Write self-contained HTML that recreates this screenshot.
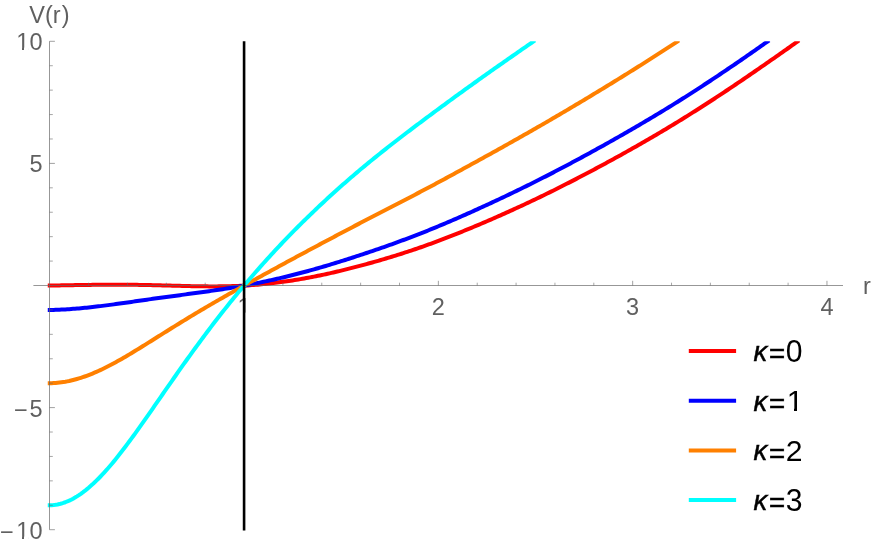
<!DOCTYPE html>
<html><head><meta charset="utf-8"><title>V(r)</title>
<style>html,body{margin:0;padding:0;background:#fff;}svg{display:block;will-change:transform;}text{font-family:"Liberation Sans",sans-serif;}</style></head><body>
<svg width="872" height="545" viewBox="0 0 872 545">
<rect width="872" height="545" fill="#fff"/>
<defs><clipPath id="c"><rect x="33" y="41.30" width="810" height="488.40"/></clipPath></defs>
<g clip-path="url(#c)" fill="none" stroke-width="4.0" stroke-linecap="butt" stroke-linejoin="round">
<path d="M47.76,285.57 L49.76,285.57 L51.70,285.53 L53.65,285.49 L55.59,285.45 L57.53,285.41 L59.48,285.38 L61.42,285.34 L63.36,285.30 L65.30,285.27 L67.25,285.23 L69.19,285.20 L71.13,285.17 L73.08,285.13 L75.02,285.10 L76.96,285.07 L78.91,285.04 L80.85,285.01 L82.79,284.99 L84.73,284.96 L86.68,284.94 L88.62,284.91 L90.56,284.89 L92.51,284.87 L94.45,284.85 L96.39,284.83 L98.34,284.81 L100.28,284.80 L102.22,284.78 L104.16,284.77 L106.11,284.76 L108.05,284.75 L109.99,284.74 L111.94,284.74 L113.88,284.74 L115.82,284.73 L117.77,284.74 L119.71,284.74 L121.65,284.74 L123.59,284.75 L125.54,284.76 L127.48,284.77 L129.42,284.78 L131.37,284.80 L133.31,284.82 L135.25,284.84 L137.19,284.86 L139.14,284.89 L141.08,284.91 L143.02,284.94 L144.97,284.98 L146.91,285.01 L148.85,285.05 L150.80,285.09 L152.74,285.14 L154.68,285.18 L156.62,285.23 L158.57,285.28 L160.51,285.33 L162.45,285.38 L164.40,285.43 L166.34,285.49 L168.28,285.54 L170.23,285.59 L172.17,285.65 L174.11,285.70 L176.06,285.75 L178.00,285.81 L179.94,285.86 L181.88,285.91 L183.83,285.96 L185.77,286.01 L187.71,286.05 L189.66,286.10 L191.60,286.14 L193.54,286.18 L195.49,286.22 L197.43,286.25 L199.37,286.28 L201.31,286.31 L203.26,286.33 L205.20,286.35 L207.14,286.37 L209.09,286.38 L211.03,286.39 L212.97,286.39 L214.91,286.39 L216.86,286.38 L218.80,286.37 L220.74,286.35 L222.69,286.33 L224.63,286.30 L226.57,286.26 L228.52,286.22 L230.46,286.17 L232.40,286.11 L234.35,286.05 L236.29,285.98 L238.23,285.90 L240.17,285.81 L242.12,285.72 L244.06,285.61 L246.00,285.50 L247.95,285.38 L249.89,285.25 L251.83,285.12 L253.78,284.97 L255.72,284.82 L257.66,284.66 L259.60,284.49 L261.55,284.31 L263.49,284.13 L265.43,283.93 L267.38,283.73 L269.32,283.52 L271.26,283.30 L273.21,283.08 L275.15,282.84 L277.09,282.60 L279.03,282.35 L280.98,282.10 L282.92,281.83 L284.86,281.56 L286.81,281.28 L288.75,280.99 L290.69,280.70 L292.63,280.40 L294.58,280.09 L296.52,279.77 L298.46,279.45 L300.41,279.12 L302.35,278.78 L304.29,278.44 L306.24,278.09 L308.18,277.73 L310.12,277.36 L312.06,276.99 L314.01,276.61 L315.95,276.22 L317.89,275.83 L319.84,275.43 L321.78,275.02 L323.72,274.61 L325.67,274.19 L327.61,273.76 L329.55,273.33 L331.50,272.89 L333.44,272.45 L335.38,271.99 L337.32,271.54 L339.27,271.07 L341.21,270.60 L343.15,270.13 L345.10,269.65 L347.04,269.16 L348.98,268.67 L350.93,268.18 L352.87,267.68 L354.81,267.18 L356.75,266.67 L358.70,266.16 L360.64,265.65 L362.58,265.13 L364.53,264.60 L366.47,264.08 L368.41,263.54 L370.36,263.00 L372.30,262.46 L374.24,261.91 L376.18,261.36 L378.13,260.80 L380.07,260.24 L382.01,259.67 L383.96,259.10 L385.90,258.52 L387.84,257.94 L389.79,257.35 L391.73,256.76 L393.67,256.16 L395.61,255.56 L397.56,254.95 L399.50,254.34 L401.44,253.72 L403.39,253.10 L405.33,252.47 L407.27,251.83 L409.22,251.19 L411.16,250.55 L413.10,249.90 L415.04,249.24 L416.99,248.58 L418.93,247.91 L420.87,247.24 L422.82,246.56 L424.76,245.88 L426.70,245.19 L428.64,244.49 L430.59,243.79 L432.53,243.08 L434.47,242.37 L436.42,241.65 L438.36,240.92 L440.30,240.19 L442.25,239.46 L444.19,238.71 L446.13,237.96 L448.07,237.21 L450.02,236.45 L451.96,235.68 L453.90,234.91 L455.85,234.14 L457.79,233.36 L459.73,232.58 L461.68,231.80 L463.62,231.01 L465.56,230.21 L467.50,229.42 L469.45,228.62 L471.39,227.81 L473.33,227.00 L475.28,226.19 L477.22,225.38 L479.16,224.56 L481.11,223.73 L483.05,222.91 L484.99,222.08 L486.94,221.24 L488.88,220.40 L490.82,219.56 L492.76,218.72 L494.71,217.87 L496.65,217.01 L498.59,216.16 L500.54,215.30 L502.48,214.43 L504.42,213.57 L506.37,212.70 L508.31,211.82 L510.25,210.94 L512.19,210.06 L514.14,209.18 L516.08,208.29 L518.02,207.39 L519.97,206.50 L521.91,205.60 L523.85,204.70 L525.80,203.79 L527.74,202.88 L529.68,201.96 L531.62,201.04 L533.57,200.12 L535.51,199.20 L537.45,198.27 L539.40,197.34 L541.34,196.40 L543.28,195.46 L545.23,194.51 L547.17,193.56 L549.11,192.60 L551.05,191.65 L553.00,190.68 L554.94,189.72 L556.88,188.75 L558.83,187.77 L560.77,186.80 L562.71,185.81 L564.65,184.83 L566.60,183.84 L568.54,182.85 L570.48,181.85 L572.43,180.85 L574.37,179.85 L576.31,178.85 L578.26,177.84 L580.20,176.83 L582.14,175.81 L584.09,174.79 L586.03,173.77 L587.97,172.75 L589.91,171.72 L591.86,170.69 L593.80,169.66 L595.74,168.63 L597.69,167.59 L599.63,166.55 L601.57,165.50 L603.51,164.45 L605.46,163.40 L607.40,162.35 L609.34,161.29 L611.29,160.23 L613.23,159.17 L615.17,158.10 L617.12,157.03 L619.06,155.96 L621.00,154.88 L622.95,153.80 L624.89,152.72 L626.83,151.63 L628.77,150.54 L630.72,149.45 L632.66,148.35 L634.60,147.25 L636.55,146.15 L638.49,145.04 L640.43,143.93 L642.38,142.82 L644.32,141.70 L646.26,140.58 L648.20,139.45 L650.15,138.32 L652.09,137.19 L654.03,136.05 L655.98,134.91 L657.92,133.77 L659.86,132.62 L661.81,131.47 L663.75,130.31 L665.69,129.16 L667.63,127.99 L669.58,126.83 L671.52,125.65 L673.46,124.48 L675.41,123.30 L677.35,122.11 L679.29,120.92 L681.24,119.72 L683.18,118.52 L685.12,117.31 L687.06,116.10 L689.01,114.88 L690.95,113.66 L692.89,112.43 L694.84,111.20 L696.78,109.97 L698.72,108.73 L700.67,107.49 L702.61,106.25 L704.55,105.00 L706.49,103.75 L708.44,102.50 L710.38,101.24 L712.32,99.98 L714.27,98.72 L716.21,97.45 L718.15,96.17 L720.10,94.89 L722.04,93.61 L723.98,92.33 L725.92,91.04 L727.87,89.74 L729.81,88.44 L731.75,87.14 L733.70,85.84 L735.64,84.53 L737.58,83.21 L739.53,81.90 L741.47,80.58 L743.41,79.26 L745.35,77.93 L747.30,76.60 L749.24,75.27 L751.18,73.94 L753.13,72.60 L755.07,71.26 L757.01,69.92 L758.96,68.58 L760.90,67.23 L762.84,65.89 L764.78,64.54 L766.73,63.18 L768.67,61.83 L770.61,60.48 L772.56,59.12 L774.50,57.77 L776.44,56.42 L778.38,55.06 L780.33,53.71 L782.27,52.35 L784.21,50.98 L786.16,49.62 L788.10,48.25 L790.04,46.87 L791.99,45.49 L793.93,44.10 L795.87,42.70 L797.80,41.30 L799.10,40.36" stroke="#ff0000"/>
<path d="M47.76,309.99 L49.76,309.99 L51.70,309.94 L53.65,309.89 L55.59,309.83 L57.53,309.76 L59.48,309.68 L61.42,309.58 L63.36,309.49 L65.30,309.38 L67.25,309.26 L69.19,309.14 L71.13,309.00 L73.08,308.86 L75.02,308.71 L76.96,308.55 L78.91,308.39 L80.85,308.21 L82.79,308.03 L84.73,307.85 L86.68,307.65 L88.62,307.45 L90.56,307.25 L92.51,307.03 L94.45,306.81 L96.39,306.59 L98.34,306.36 L100.28,306.12 L102.22,305.88 L104.16,305.64 L106.11,305.39 L108.05,305.14 L109.99,304.88 L111.94,304.62 L113.88,304.36 L115.82,304.09 L117.77,303.83 L119.71,303.55 L121.65,303.28 L123.59,303.01 L125.54,302.73 L127.48,302.45 L129.42,302.17 L131.37,301.90 L133.31,301.62 L135.25,301.34 L137.19,301.06 L139.14,300.78 L141.08,300.50 L143.02,300.22 L144.97,299.94 L146.91,299.66 L148.85,299.39 L150.80,299.12 L152.74,298.85 L154.68,298.58 L156.62,298.31 L158.57,298.04 L160.51,297.77 L162.45,297.51 L164.40,297.24 L166.34,296.98 L168.28,296.71 L170.23,296.45 L172.17,296.19 L174.11,295.93 L176.06,295.67 L178.00,295.41 L179.94,295.15 L181.88,294.89 L183.83,294.63 L185.77,294.37 L187.71,294.10 L189.66,293.84 L191.60,293.58 L193.54,293.32 L195.49,293.05 L197.43,292.79 L199.37,292.52 L201.31,292.25 L203.26,291.98 L205.20,291.71 L207.14,291.44 L209.09,291.16 L211.03,290.89 L212.97,290.61 L214.91,290.32 L216.86,290.04 L218.80,289.75 L220.74,289.46 L222.69,289.16 L224.63,288.86 L226.57,288.56 L228.52,288.25 L230.46,287.94 L232.40,287.62 L234.35,287.30 L236.29,286.97 L238.23,286.64 L240.17,286.30 L242.12,285.96 L244.06,285.61 L246.00,285.26 L247.95,284.90 L249.89,284.53 L251.83,284.16 L253.78,283.78 L255.72,283.40 L257.66,283.01 L259.60,282.61 L261.55,282.21 L263.49,281.80 L265.43,281.39 L267.38,280.97 L269.32,280.55 L271.26,280.12 L273.21,279.69 L275.15,279.24 L277.09,278.80 L279.03,278.35 L280.98,277.89 L282.92,277.43 L284.86,276.96 L286.81,276.49 L288.75,276.01 L290.69,275.53 L292.63,275.04 L294.58,274.54 L296.52,274.05 L298.46,273.54 L300.41,273.03 L302.35,272.52 L304.29,272.00 L306.24,271.47 L308.18,270.95 L310.12,270.41 L312.06,269.87 L314.01,269.33 L315.95,268.78 L317.89,268.23 L319.84,267.67 L321.78,267.10 L323.72,266.53 L325.67,265.96 L327.61,265.38 L329.55,264.80 L331.50,264.21 L333.44,263.62 L335.38,263.03 L337.32,262.43 L339.27,261.82 L341.21,261.21 L343.15,260.60 L345.10,259.98 L347.04,259.36 L348.98,258.74 L350.93,258.11 L352.87,257.49 L354.81,256.86 L356.75,256.22 L358.70,255.59 L360.64,254.95 L362.58,254.31 L364.53,253.66 L366.47,253.01 L368.41,252.36 L370.36,251.70 L372.30,251.05 L374.24,250.38 L376.18,249.72 L378.13,249.05 L380.07,248.38 L382.01,247.70 L383.96,247.02 L385.90,246.33 L387.84,245.65 L389.79,244.96 L391.73,244.26 L393.67,243.56 L395.61,242.86 L397.56,242.15 L399.50,241.44 L401.44,240.72 L403.39,240.00 L405.33,239.28 L407.27,238.55 L409.22,237.82 L411.16,237.08 L413.10,236.34 L415.04,235.59 L416.99,234.84 L418.93,234.09 L420.87,233.33 L422.82,232.56 L424.76,231.79 L426.70,231.02 L428.64,230.24 L430.59,229.46 L432.53,228.67 L434.47,227.87 L436.42,227.08 L438.36,226.27 L440.30,225.46 L442.25,224.65 L444.19,223.83 L446.13,223.00 L448.07,222.17 L450.02,221.34 L451.96,220.50 L453.90,219.66 L455.85,218.82 L457.79,217.97 L459.73,217.12 L461.68,216.27 L463.62,215.41 L465.56,214.55 L467.50,213.68 L469.45,212.82 L471.39,211.95 L473.33,211.07 L475.28,210.20 L477.22,209.32 L479.16,208.44 L481.11,207.55 L483.05,206.66 L484.99,205.77 L486.94,204.88 L488.88,203.98 L490.82,203.08 L492.76,202.18 L494.71,201.27 L496.65,200.36 L498.59,199.45 L500.54,198.53 L502.48,197.61 L504.42,196.69 L506.37,195.76 L508.31,194.84 L510.25,193.90 L512.19,192.97 L514.14,192.03 L516.08,191.09 L518.02,190.15 L519.97,189.20 L521.91,188.25 L523.85,187.30 L525.80,186.34 L527.74,185.38 L529.68,184.42 L531.62,183.46 L533.57,182.49 L535.51,181.51 L537.45,180.54 L539.40,179.56 L541.34,178.58 L543.28,177.59 L545.23,176.60 L547.17,175.60 L549.11,174.61 L551.05,173.61 L553.00,172.60 L554.94,171.59 L556.88,170.58 L558.83,169.56 L560.77,168.54 L562.71,167.52 L564.65,166.50 L566.60,165.47 L568.54,164.44 L570.48,163.40 L572.43,162.36 L574.37,161.32 L576.31,160.28 L578.26,159.23 L580.20,158.18 L582.14,157.13 L584.09,156.08 L586.03,155.02 L587.97,153.96 L589.91,152.90 L591.86,151.83 L593.80,150.77 L595.74,149.70 L597.69,148.62 L599.63,147.55 L601.57,146.47 L603.51,145.39 L605.46,144.30 L607.40,143.22 L609.34,142.13 L611.29,141.04 L613.23,139.94 L615.17,138.84 L617.12,137.74 L619.06,136.63 L621.00,135.53 L622.95,134.42 L624.89,133.30 L626.83,132.19 L628.77,131.07 L630.72,129.94 L632.66,128.82 L634.60,127.69 L636.55,126.55 L638.49,125.42 L640.43,124.28 L642.38,123.14 L644.32,121.99 L646.26,120.84 L648.20,119.69 L650.15,118.53 L652.09,117.37 L654.03,116.21 L655.98,115.04 L657.92,113.87 L659.86,112.70 L661.81,111.52 L663.75,110.34 L665.69,109.16 L667.63,107.97 L669.58,106.78 L671.52,105.58 L673.46,104.38 L675.41,103.17 L677.35,101.96 L679.29,100.75 L681.24,99.52 L683.18,98.30 L685.12,97.07 L687.06,95.83 L689.01,94.59 L690.95,93.35 L692.89,92.10 L694.84,90.85 L696.78,89.59 L698.72,88.33 L700.67,87.07 L702.61,85.80 L704.55,84.53 L706.49,83.26 L708.44,81.99 L710.38,80.71 L712.32,79.43 L714.27,78.14 L716.21,76.85 L718.15,75.56 L720.10,74.26 L722.04,72.96 L723.98,71.65 L725.92,70.34 L727.87,69.03 L729.81,67.71 L731.75,66.39 L733.70,65.06 L735.64,63.73 L737.58,62.40 L739.53,61.07 L741.47,59.73 L743.41,58.39 L745.35,57.05 L747.30,55.70 L749.24,54.35 L751.18,53.00 L753.13,51.65 L755.07,50.29 L757.01,48.93 L758.96,47.57 L760.90,46.21 L762.84,44.84 L764.78,43.47 L766.73,42.11 L767.87,41.30 L769.18,40.38" stroke="#0000ff"/>
<path d="M47.76,383.25 L49.76,383.25 L51.70,383.19 L53.65,383.09 L55.59,382.96 L57.53,382.78 L59.48,382.57 L61.42,382.32 L63.36,382.03 L65.30,381.71 L67.25,381.34 L69.19,380.95 L71.13,380.51 L73.08,380.04 L75.02,379.54 L76.96,379.00 L78.91,378.42 L80.85,377.82 L82.79,377.18 L84.73,376.51 L86.68,375.81 L88.62,375.08 L90.56,374.32 L92.51,373.53 L94.45,372.71 L96.39,371.87 L98.34,371.00 L100.28,370.11 L102.22,369.19 L104.16,368.25 L106.11,367.29 L108.05,366.30 L109.99,365.30 L111.94,364.27 L113.88,363.23 L115.82,362.17 L117.77,361.10 L119.71,360.00 L121.65,358.90 L123.59,357.78 L125.54,356.65 L127.48,355.50 L129.42,354.35 L131.37,353.18 L133.31,352.01 L135.25,350.83 L137.19,349.64 L139.14,348.45 L141.08,347.25 L143.02,346.04 L144.97,344.83 L146.91,343.62 L148.85,342.41 L150.80,341.19 L152.74,339.97 L154.68,338.76 L156.62,337.54 L158.57,336.32 L160.51,335.10 L162.45,333.88 L164.40,332.67 L166.34,331.45 L168.28,330.24 L170.23,329.03 L172.17,327.82 L174.11,326.61 L176.06,325.41 L178.00,324.21 L179.94,323.01 L181.88,321.82 L183.83,320.63 L185.77,319.44 L187.71,318.26 L189.66,317.08 L191.60,315.90 L193.54,314.73 L195.49,313.57 L197.43,312.40 L199.37,311.24 L201.31,310.09 L203.26,308.94 L205.20,307.79 L207.14,306.65 L209.09,305.51 L211.03,304.38 L212.97,303.25 L214.91,302.12 L216.86,301.00 L218.80,299.88 L220.74,298.77 L222.69,297.66 L224.63,296.55 L226.57,295.44 L228.52,294.34 L230.46,293.24 L232.40,292.15 L234.35,291.05 L236.29,289.96 L238.23,288.87 L240.17,287.78 L242.12,286.70 L244.06,285.61 L246.00,284.53 L247.95,283.45 L249.89,282.37 L251.83,281.29 L253.78,280.21 L255.72,279.13 L257.66,278.06 L259.60,276.99 L261.55,275.91 L263.49,274.84 L265.43,273.77 L267.38,272.71 L269.32,271.64 L271.26,270.58 L273.21,269.51 L275.15,268.45 L277.09,267.39 L279.03,266.33 L280.98,265.27 L282.92,264.22 L284.86,263.16 L286.81,262.11 L288.75,261.06 L290.69,260.01 L292.63,258.96 L294.58,257.91 L296.52,256.86 L298.46,255.82 L300.41,254.77 L302.35,253.73 L304.29,252.68 L306.24,251.64 L308.18,250.60 L310.12,249.56 L312.06,248.52 L314.01,247.49 L315.95,246.45 L317.89,245.41 L319.84,244.38 L321.78,243.34 L323.72,242.31 L325.67,241.28 L327.61,240.24 L329.55,239.21 L331.50,238.18 L333.44,237.15 L335.38,236.12 L337.32,235.09 L339.27,234.06 L341.21,233.03 L343.15,232.01 L345.10,230.98 L347.04,229.96 L348.98,228.94 L350.93,227.92 L352.87,226.90 L354.81,225.88 L356.75,224.87 L358.70,223.86 L360.64,222.85 L362.58,221.84 L364.53,220.83 L366.47,219.82 L368.41,218.81 L370.36,217.80 L372.30,216.80 L374.24,215.79 L376.18,214.79 L378.13,213.78 L380.07,212.78 L382.01,211.78 L383.96,210.77 L385.90,209.77 L387.84,208.77 L389.79,207.76 L391.73,206.76 L393.67,205.75 L395.61,204.75 L397.56,203.74 L399.50,202.74 L401.44,201.73 L403.39,200.72 L405.33,199.71 L407.27,198.70 L409.22,197.69 L411.16,196.68 L413.10,195.66 L415.04,194.65 L416.99,193.63 L418.93,192.61 L420.87,191.59 L422.82,190.57 L424.76,189.54 L426.70,188.52 L428.64,187.49 L430.59,186.46 L432.53,185.43 L434.47,184.39 L436.42,183.35 L438.36,182.32 L440.30,181.27 L442.25,180.23 L444.19,179.18 L446.13,178.13 L448.07,177.08 L450.02,176.02 L451.96,174.97 L453.90,173.91 L455.85,172.85 L457.79,171.79 L459.73,170.73 L461.68,169.67 L463.62,168.61 L465.56,167.55 L467.50,166.48 L469.45,165.42 L471.39,164.35 L473.33,163.29 L475.28,162.22 L477.22,161.15 L479.16,160.08 L481.11,159.01 L483.05,157.93 L484.99,156.86 L486.94,155.79 L488.88,154.71 L490.82,153.63 L492.76,152.55 L494.71,151.47 L496.65,150.39 L498.59,149.31 L500.54,148.23 L502.48,147.14 L504.42,146.06 L506.37,144.97 L508.31,143.88 L510.25,142.79 L512.19,141.70 L514.14,140.60 L516.08,139.51 L518.02,138.41 L519.97,137.31 L521.91,136.21 L523.85,135.11 L525.80,134.01 L527.74,132.90 L529.68,131.79 L531.62,130.69 L533.57,129.58 L535.51,128.46 L537.45,127.35 L539.40,126.23 L541.34,125.11 L543.28,123.99 L545.23,122.87 L547.17,121.74 L549.11,120.61 L551.05,119.48 L553.00,118.35 L554.94,117.21 L556.88,116.07 L558.83,114.93 L560.77,113.79 L562.71,112.65 L564.65,111.50 L566.60,110.35 L568.54,109.20 L570.48,108.05 L572.43,106.89 L574.37,105.74 L576.31,104.58 L578.26,103.42 L580.20,102.26 L582.14,101.10 L584.09,99.93 L586.03,98.76 L587.97,97.59 L589.91,96.42 L591.86,95.25 L593.80,94.08 L595.74,92.91 L597.69,91.73 L599.63,90.55 L601.57,89.37 L603.51,88.19 L605.46,87.01 L607.40,85.82 L609.34,84.63 L611.29,83.44 L613.23,82.25 L615.17,81.06 L617.12,79.86 L619.06,78.66 L621.00,77.46 L622.95,76.26 L624.89,75.05 L626.83,73.85 L628.77,72.64 L630.72,71.42 L632.66,70.21 L634.60,68.99 L636.55,67.77 L638.49,66.55 L640.43,65.33 L642.38,64.10 L644.32,62.87 L646.26,61.64 L648.20,60.40 L650.15,59.16 L652.09,57.92 L654.03,56.68 L655.98,55.43 L657.92,54.18 L659.86,52.93 L661.81,51.68 L663.75,50.42 L665.69,49.16 L667.63,47.89 L669.58,46.63 L671.52,45.36 L673.46,44.08 L675.41,42.80 L677.35,41.52 L677.68,41.30 L679.01,40.42" stroke="#ff8000"/>
<path d="M47.76,505.35 L49.76,505.35 L51.70,505.27 L53.65,505.09 L55.59,504.84 L57.53,504.49 L59.48,504.06 L61.42,503.54 L63.36,502.94 L65.30,502.25 L67.25,501.48 L69.19,500.63 L71.13,499.69 L73.08,498.67 L75.02,497.58 L76.96,496.40 L78.91,495.15 L80.85,493.82 L82.79,492.42 L84.73,490.95 L86.68,489.40 L88.62,487.79 L90.56,486.10 L92.51,484.36 L94.45,482.54 L96.39,480.67 L98.34,478.74 L100.28,476.74 L102.22,474.70 L104.16,472.59 L106.11,470.44 L108.05,468.24 L109.99,465.99 L111.94,463.69 L113.88,461.35 L115.82,458.97 L117.77,456.55 L119.71,454.09 L121.65,451.59 L123.59,449.07 L125.54,446.51 L127.48,443.92 L129.42,441.31 L131.37,438.67 L133.31,436.00 L135.25,433.32 L137.19,430.62 L139.14,427.90 L141.08,425.16 L143.02,422.41 L144.97,419.65 L146.91,416.88 L148.85,414.10 L150.80,411.31 L152.74,408.52 L154.68,405.72 L156.62,402.92 L158.57,400.12 L160.51,397.32 L162.45,394.51 L164.40,391.71 L166.34,388.91 L168.28,386.11 L170.23,383.32 L172.17,380.53 L174.11,377.75 L176.06,374.98 L178.00,372.21 L179.94,369.45 L181.88,366.70 L183.83,363.96 L185.77,361.23 L187.71,358.51 L189.66,355.81 L191.60,353.11 L193.54,350.43 L195.49,347.75 L197.43,345.10 L199.37,342.45 L201.31,339.82 L203.26,337.20 L205.20,334.60 L207.14,332.01 L209.09,329.43 L211.03,326.87 L212.97,324.33 L214.91,321.80 L216.86,319.28 L218.80,316.78 L220.74,314.29 L222.69,311.82 L224.63,309.37 L226.57,306.93 L228.52,304.50 L230.46,302.09 L232.40,299.69 L234.35,297.31 L236.29,294.94 L238.23,292.59 L240.17,290.25 L242.12,287.93 L244.06,285.61 L246.00,283.32 L247.95,281.03 L249.89,278.76 L251.83,276.50 L253.78,274.26 L255.72,272.03 L257.66,269.81 L259.60,267.61 L261.55,265.42 L263.49,263.24 L265.43,261.08 L267.38,258.93 L269.32,256.79 L271.26,254.67 L273.21,252.56 L275.15,250.46 L277.09,248.38 L279.03,246.30 L280.98,244.25 L282.92,242.20 L284.86,240.17 L286.81,238.14 L288.75,236.14 L290.69,234.14 L292.63,232.15 L294.58,230.18 L296.52,228.22 L298.46,226.27 L300.41,224.33 L302.35,222.41 L304.29,220.49 L306.24,218.59 L308.18,216.70 L310.12,214.81 L312.06,212.94 L314.01,211.08 L315.95,209.23 L317.89,207.39 L319.84,205.56 L321.78,203.74 L323.72,201.93 L325.67,200.13 L327.61,198.34 L329.55,196.56 L331.50,194.79 L333.44,193.03 L335.38,191.28 L337.32,189.53 L339.27,187.80 L341.21,186.07 L343.15,184.35 L345.10,182.65 L347.04,180.95 L348.98,179.26 L350.93,177.59 L352.87,175.92 L354.81,174.26 L356.75,172.61 L358.70,170.97 L360.64,169.34 L362.58,167.72 L364.53,166.10 L366.47,164.50 L368.41,162.90 L370.36,161.31 L372.30,159.72 L374.24,158.15 L376.18,156.58 L378.13,155.01 L380.07,153.46 L382.01,151.91 L383.96,150.37 L385.90,148.83 L387.84,147.30 L389.79,145.77 L391.73,144.25 L393.67,142.74 L395.61,141.23 L397.56,139.73 L399.50,138.23 L401.44,136.74 L403.39,135.25 L405.33,133.76 L407.27,132.28 L409.22,130.81 L411.16,129.33 L413.10,127.87 L415.04,126.40 L416.99,124.94 L418.93,123.48 L420.87,122.03 L422.82,120.58 L424.76,119.13 L426.70,117.68 L428.64,116.24 L430.59,114.80 L432.53,113.36 L434.47,111.92 L436.42,110.49 L438.36,109.06 L440.30,107.62 L442.25,106.20 L444.19,104.77 L446.13,103.34 L448.07,101.92 L450.02,100.49 L451.96,99.07 L453.90,97.66 L455.85,96.24 L457.79,94.83 L459.73,93.42 L461.68,92.02 L463.62,90.61 L465.56,89.21 L467.50,87.82 L469.45,86.42 L471.39,85.03 L473.33,83.64 L475.28,82.25 L477.22,80.86 L479.16,79.48 L481.11,78.10 L483.05,76.72 L484.99,75.34 L486.94,73.97 L488.88,72.59 L490.82,71.22 L492.76,69.85 L494.71,68.48 L496.65,67.12 L498.59,65.75 L500.54,64.39 L502.48,63.03 L504.42,61.67 L506.37,60.31 L508.31,58.95 L510.25,57.59 L512.19,56.24 L514.14,54.88 L516.08,53.53 L518.02,52.18 L519.97,50.83 L521.91,49.48 L523.85,48.13 L525.80,46.78 L527.74,45.43 L529.68,44.08 L531.62,42.74 L533.57,41.39 L533.70,41.30 L535.02,40.39" stroke="#00ffff"/>
</g>
<g stroke="#666" stroke-width="0.68" fill="none">
<line x1="33.4" y1="285.5" x2="843" y2="285.5"/>
<line x1="49.5" y1="41.30" x2="49.5" y2="529.70"/>
<line x1="88.62" y1="285.5" x2="88.62" y2="282.7" stroke-width="0.58"/>
<line x1="127.48" y1="285.5" x2="127.48" y2="282.7" stroke-width="0.58"/>
<line x1="166.34" y1="285.5" x2="166.34" y2="282.7" stroke-width="0.58"/>
<line x1="205.20" y1="285.5" x2="205.20" y2="282.7" stroke-width="0.58"/>
<line x1="244.06" y1="285.5" x2="244.06" y2="280.8" stroke-width="0.62"/>
<line x1="282.92" y1="285.5" x2="282.92" y2="282.7" stroke-width="0.58"/>
<line x1="321.78" y1="285.5" x2="321.78" y2="282.7" stroke-width="0.58"/>
<line x1="360.64" y1="285.5" x2="360.64" y2="282.7" stroke-width="0.58"/>
<line x1="399.50" y1="285.5" x2="399.50" y2="282.7" stroke-width="0.58"/>
<line x1="438.36" y1="285.5" x2="438.36" y2="280.8" stroke-width="0.62"/>
<line x1="477.22" y1="285.5" x2="477.22" y2="282.7" stroke-width="0.58"/>
<line x1="516.08" y1="285.5" x2="516.08" y2="282.7" stroke-width="0.58"/>
<line x1="554.94" y1="285.5" x2="554.94" y2="282.7" stroke-width="0.58"/>
<line x1="593.80" y1="285.5" x2="593.80" y2="282.7" stroke-width="0.58"/>
<line x1="632.66" y1="285.5" x2="632.66" y2="280.8" stroke-width="0.62"/>
<line x1="671.52" y1="285.5" x2="671.52" y2="282.7" stroke-width="0.58"/>
<line x1="710.38" y1="285.5" x2="710.38" y2="282.7" stroke-width="0.58"/>
<line x1="749.24" y1="285.5" x2="749.24" y2="282.7" stroke-width="0.58"/>
<line x1="788.10" y1="285.5" x2="788.10" y2="282.7" stroke-width="0.58"/>
<line x1="826.96" y1="285.5" x2="826.96" y2="280.8" stroke-width="0.62"/>
<line x1="49.5" y1="529.70" x2="54.9" y2="529.70" stroke-width="0.62"/>
<line x1="49.5" y1="505.28" x2="52.8" y2="505.28" stroke-width="0.58"/>
<line x1="49.5" y1="480.86" x2="52.8" y2="480.86" stroke-width="0.58"/>
<line x1="49.5" y1="456.44" x2="52.8" y2="456.44" stroke-width="0.58"/>
<line x1="49.5" y1="432.02" x2="52.8" y2="432.02" stroke-width="0.58"/>
<line x1="49.5" y1="407.60" x2="54.9" y2="407.60" stroke-width="0.62"/>
<line x1="49.5" y1="383.18" x2="52.8" y2="383.18" stroke-width="0.58"/>
<line x1="49.5" y1="358.76" x2="52.8" y2="358.76" stroke-width="0.58"/>
<line x1="49.5" y1="334.34" x2="52.8" y2="334.34" stroke-width="0.58"/>
<line x1="49.5" y1="309.92" x2="52.8" y2="309.92" stroke-width="0.58"/>
<line x1="49.5" y1="261.08" x2="52.8" y2="261.08" stroke-width="0.58"/>
<line x1="49.5" y1="236.66" x2="52.8" y2="236.66" stroke-width="0.58"/>
<line x1="49.5" y1="212.24" x2="52.8" y2="212.24" stroke-width="0.58"/>
<line x1="49.5" y1="187.82" x2="52.8" y2="187.82" stroke-width="0.58"/>
<line x1="49.5" y1="163.40" x2="54.9" y2="163.40" stroke-width="0.62"/>
<line x1="49.5" y1="138.98" x2="52.8" y2="138.98" stroke-width="0.58"/>
<line x1="49.5" y1="114.56" x2="52.8" y2="114.56" stroke-width="0.58"/>
<line x1="49.5" y1="90.14" x2="52.8" y2="90.14" stroke-width="0.58"/>
<line x1="49.5" y1="65.72" x2="52.8" y2="65.72" stroke-width="0.58"/>
<line x1="49.5" y1="41.30" x2="54.9" y2="41.30" stroke-width="0.62"/>
</g>
<g fill="#606060" font-size="23.5px">
<text x="244.06" y="314.8" text-anchor="middle">1</text>
<text x="438.36" y="314.8" text-anchor="middle">2</text>
<text x="632.66" y="314.8" text-anchor="middle">3</text>
<text x="826.96" y="314.8" text-anchor="middle">4</text>
<text x="42.5" y="50.20" text-anchor="end">10</text>
<text x="42.5" y="172.30" text-anchor="end">5</text>
<text x="42.5" y="416.50" text-anchor="end">5</text>
<text x="13.9" y="417.50">−</text>
<text x="42.5" y="538.60" text-anchor="end">10</text>
<text x="0.0" y="539.60">−</text>
<text x="29.3" y="23.0">V(r<tspan dx="1">)</tspan></text>
<text x="863" y="294">r</text>
</g>
<g fill="#fff">
<rect x="17.4" y="47.6" width="4.6" height="2.9"/>
<rect x="24.0" y="47.6" width="4.7" height="2.9"/>
<rect x="17.4" y="536.6" width="4.6" height="2.9"/>
<rect x="24.0" y="536.6" width="4.7" height="2.9"/>
<rect x="238.4" y="312.6" width="12.8" height="2.7"/>
</g>
<line x1="244.08" y1="41.2" x2="244.08" y2="530.6" stroke="#000" stroke-width="2.6"/>
<line x1="688.8" y1="351.00" x2="736.1" y2="351.00" stroke="#ff0000" stroke-width="4.0"/>
<text x="753.4" y="361.05" font-size="27.6px" font-style="italic" fill="#000" stroke="#000" stroke-width="0.45">κ</text>
<text transform="translate(769.0,363.25) scale(1.03,1)" font-size="26.8px" fill="#000" stroke="#000" stroke-width="0.6">=</text>
<text transform="translate(785.7,362.15) scale(0.97,1)" font-size="31.1px" fill="#000">0</text>
<line x1="688.8" y1="400.69" x2="736.1" y2="400.69" stroke="#0000ff" stroke-width="4.0"/>
<text x="753.4" y="410.74" font-size="27.6px" font-style="italic" fill="#000" stroke="#000" stroke-width="0.45">κ</text>
<text transform="translate(769.0,412.94) scale(1.03,1)" font-size="26.8px" fill="#000" stroke="#000" stroke-width="0.6">=</text>
<text transform="translate(786.7,410.84) scale(1.016,1)" font-size="29.7px" fill="#000">1</text>
<rect x="787.6" y="407.6" width="6.4" height="3.9" fill="#fff"/><rect x="797.0" y="407.6" width="6.4" height="3.9" fill="#fff"/>
<line x1="688.8" y1="450.38" x2="736.1" y2="450.38" stroke="#ff8000" stroke-width="4.0"/>
<text x="753.4" y="460.43" font-size="27.6px" font-style="italic" fill="#000" stroke="#000" stroke-width="0.45">κ</text>
<text transform="translate(769.0,462.63) scale(1.03,1)" font-size="26.8px" fill="#000" stroke="#000" stroke-width="0.6">=</text>
<text transform="translate(785.7,460.53) scale(1.016,1)" font-size="29.7px" fill="#000">2</text>
<line x1="688.8" y1="500.07" x2="736.1" y2="500.07" stroke="#00ffff" stroke-width="4.0"/>
<text x="753.4" y="510.12" font-size="27.6px" font-style="italic" fill="#000" stroke="#000" stroke-width="0.45">κ</text>
<text transform="translate(769.0,512.32) scale(1.03,1)" font-size="26.8px" fill="#000" stroke="#000" stroke-width="0.6">=</text>
<text transform="translate(785.7,511.22) scale(0.97,1)" font-size="31.1px" fill="#000">3</text>
</svg></body></html>
